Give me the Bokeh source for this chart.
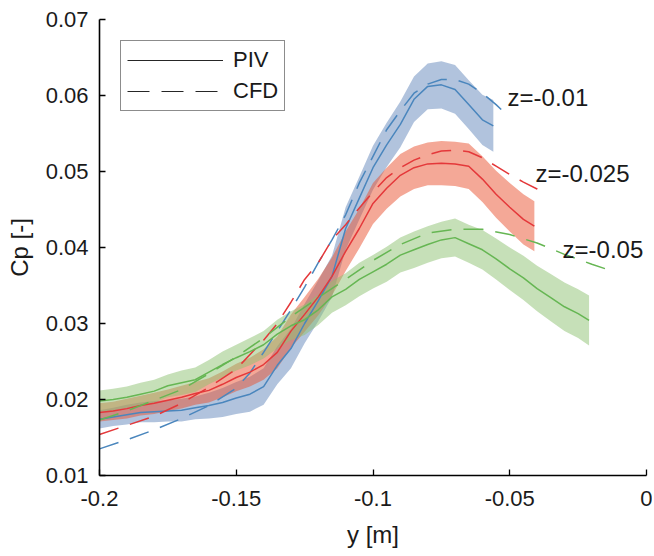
from bokeh.plotting import figure
from bokeh.models import Range1d, FixedTicker, Legend, LegendItem, ColumnDataSource
from bokeh.core.properties import value
from bokeh.embed import file_html
from bokeh.resources import INLINE

# ---------------- data ----------------
x_ticks = [-0.2, -0.15, -0.1, -0.05, 0.0]
x_tick_labels = ["-0.2", "-0.15", "-0.1", "-0.05", "0"]
y_ticks = [0.01, 0.02, 0.03, 0.04, 0.05, 0.06, 0.07]
y_tick_labels = ["0.01", "0.02", "0.03", "0.04", "0.05", "0.06", "0.07"]

# PIV z=-0.01
piv1_x = [-0.200, -0.195, -0.190, -0.185, -0.180, -0.175, -0.170, -0.165, -0.160, -0.155,
          -0.150, -0.145, -0.140, -0.135, -0.130, -0.125, -0.120, -0.115, -0.110, -0.105,
          -0.100, -0.095, -0.090, -0.085, -0.080, -0.075, -0.070, -0.065, -0.060, -0.056]
piv1_y = [0.0174, 0.0177, 0.0180, 0.0183, 0.0184, 0.0185, 0.0186, 0.0189, 0.0192, 0.0196,
          0.0202, 0.0207, 0.0217, 0.0245, 0.0267, 0.0300, 0.0330, 0.0362, 0.0425, 0.0465,
          0.0505, 0.0535, 0.0562, 0.0595, 0.0612, 0.0614, 0.0608, 0.0588, 0.0568, 0.0560]
piv1_err = [0.0012, 0.0012, 0.0013, 0.0013, 0.0014, 0.0014, 0.0015, 0.0015, 0.0017, 0.0019,
            0.0021, 0.0023, 0.0024, 0.0025, 0.0026, 0.0026, 0.0027, 0.0027, 0.0028, 0.0028,
            0.0029, 0.0029, 0.0030, 0.0030, 0.0030, 0.0031, 0.0032, 0.0032, 0.0033, 0.0034]

# PIV z=-0.025
piv2_x = [-0.200, -0.195, -0.190, -0.185, -0.180, -0.175, -0.170, -0.165, -0.160, -0.155,
          -0.150, -0.145, -0.140, -0.135, -0.130, -0.125, -0.120, -0.115, -0.110, -0.105,
          -0.100, -0.095, -0.090, -0.085, -0.080, -0.075, -0.070, -0.065, -0.060, -0.055,
          -0.050, -0.045, -0.041]
piv2_y = [0.0183, 0.0185, 0.0188, 0.0192, 0.0195, 0.0199, 0.0203, 0.0208, 0.0212, 0.0220,
          0.0229, 0.0236, 0.0246, 0.0262, 0.0290, 0.0312, 0.0335, 0.0362, 0.0395, 0.0425,
          0.0458, 0.0478, 0.0495, 0.0505, 0.0510, 0.0511, 0.0510, 0.0507, 0.0490, 0.0470,
          0.0453, 0.0437, 0.0428]
piv2_err = [0.0012, 0.0012, 0.0013, 0.0013, 0.0014, 0.0014, 0.0015, 0.0015, 0.0016, 0.0017,
            0.0018, 0.0019, 0.0020, 0.0021, 0.0022, 0.0023, 0.0024, 0.0025, 0.0026, 0.0026,
            0.0027, 0.0027, 0.0028, 0.0028, 0.0028, 0.0029, 0.0029, 0.0030, 0.0030, 0.0031,
            0.0032, 0.0033, 0.0033]

# PIV z=-0.05
piv3_x = [-0.200, -0.195, -0.190, -0.185, -0.180, -0.175, -0.170, -0.165, -0.160, -0.155,
          -0.150, -0.145, -0.140, -0.135, -0.130, -0.125, -0.120, -0.115, -0.110, -0.105,
          -0.100, -0.095, -0.090, -0.085, -0.080, -0.075, -0.070, -0.065, -0.060, -0.055,
          -0.050, -0.045, -0.040, -0.035, -0.030, -0.025, -0.021]
piv3_y = [0.0198, 0.0200, 0.0203, 0.0207, 0.0211, 0.0218, 0.0222, 0.0226, 0.0236, 0.0246,
          0.0255, 0.0263, 0.0272, 0.0286, 0.0297, 0.0305, 0.0318, 0.0335, 0.0345, 0.0358,
          0.0368, 0.0378, 0.0390, 0.0397, 0.0404, 0.0410, 0.0413, 0.0405, 0.0397, 0.0385,
          0.0372, 0.0360, 0.0346, 0.0334, 0.0322, 0.0313, 0.0304]
piv3_err = [0.0014, 0.0014, 0.0014, 0.0015, 0.0015, 0.0015, 0.0016, 0.0016, 0.0016, 0.0017,
            0.0017, 0.0018, 0.0018, 0.0019, 0.0019, 0.0020, 0.0020, 0.0021, 0.0021, 0.0022,
            0.0022, 0.0023, 0.0023, 0.0024, 0.0024, 0.0024, 0.0025, 0.0025, 0.0026, 0.0027,
            0.0028, 0.0029, 0.0030, 0.0031, 0.0032, 0.0032, 0.0033]

# CFD z=-0.01
cfd1_x = [-0.200, -0.190, -0.180, -0.170, -0.160, -0.150, -0.145, -0.140, -0.135, -0.130,
          -0.125, -0.120, -0.115, -0.110, -0.105, -0.100, -0.095, -0.090, -0.085, -0.080,
          -0.075, -0.070, -0.065, -0.060, -0.055, -0.050]
cfd1_y = [0.0135, 0.0147, 0.0160, 0.0175, 0.0192, 0.0215, 0.0235, 0.0262, 0.0290, 0.0318,
          0.0348, 0.0380, 0.0410, 0.0443, 0.0485, 0.0520, 0.0555, 0.0580, 0.0603, 0.0615,
          0.0621, 0.0621, 0.0615, 0.0603, 0.0588, 0.0571]

# CFD z=-0.025
cfd2_x = [-0.200, -0.190, -0.180, -0.170, -0.160, -0.150, -0.140, -0.135, -0.130, -0.125,
          -0.120, -0.115, -0.110, -0.105, -0.100, -0.095, -0.090, -0.085, -0.080, -0.075,
          -0.070, -0.065, -0.060, -0.055, -0.050, -0.045, -0.040, -0.0375]
cfd2_y = [0.0154, 0.0166, 0.0178, 0.0195, 0.0216, 0.0240, 0.0278, 0.0300, 0.0328, 0.0358,
          0.0380, 0.0410, 0.0430, 0.0452, 0.0473, 0.0492, 0.0505, 0.0515, 0.0522, 0.0527,
          0.0528, 0.0526, 0.0518, 0.0507, 0.0496, 0.0486, 0.0477, 0.0470]

# CFD z=-0.05
cfd3_x = [-0.200, -0.190, -0.180, -0.170, -0.160, -0.150, -0.140, -0.130, -0.120, -0.110,
          -0.100, -0.090, -0.080, -0.070, -0.060, -0.050, -0.040, -0.030, -0.020, -0.0125]
cfd3_y = [0.0173, 0.0185, 0.0199, 0.0213, 0.0234, 0.0256, 0.0281, 0.0309, 0.0334, 0.0358,
          0.0383, 0.0404, 0.0419, 0.0424, 0.0424, 0.0417, 0.0406, 0.0391, 0.0378, 0.0369]

labels = ["z=-0.01", "z=-0.025", "z=-0.05"]
label_x = [-0.0508, -0.0406, -0.0307]
label_y = [0.0598, 0.0498, 0.0398]

# ---------------- styles ----------------
FONT = "Liberation Sans"
band_colors = ["#6387bb", "#e9512f", "#8dc171"]
line_colors = ["#4a86bd", "#e4383a", "#66b653"]
NAN = float("nan")

p = figure(width=652, height=550, output_backend="svg", toolbar_location=None,
           x_range=Range1d(-0.2, 0.0), y_range=Range1d(0.01, 0.07),
           min_border_left=99, min_border_right=6, min_border_top=19, min_border_bottom=72)
p.outline_line_color = None
p.grid.visible = False
p.background_fill_color = "white"

series = [
    (piv1_x, piv1_y, piv1_err, cfd1_x, cfd1_y),
    (piv2_x, piv2_y, piv2_err, cfd2_x, cfd2_y),
    (piv3_x, piv3_y, piv3_err, cfd3_x, cfd3_y),
]

for i, (px, py, pe, cx, cy) in enumerate(series):
    lo = [a - b for a, b in zip(py, pe)]
    hi = [a + b for a, b in zip(py, pe)]
    src = ColumnDataSource(dict(x=px, lo=lo, hi=hi))
    p.varea(x="x", y1="lo", y2="hi", source=src, fill_color=band_colors[i], fill_alpha=0.5)

for i, (px, py, pe, cx, cy) in enumerate(series):
    p.line(px, py, line_color=line_colors[i], line_width=1.5)
    p.line(cx, cy, line_color=line_colors[i], line_width=1.5, line_dash="20 12")

p.text(x=label_x, y=label_y, text=labels, text_font=value(FONT), text_font_size="24px",
       text_color="#1a1a1a", text_baseline="alphabetic", text_align="left")

r_piv = p.line(x=[NAN], y=[NAN], line_color="#262626", line_width=1)
r_cfd = p.line(x=[NAN], y=[NAN], line_color="#262626", line_width=1, line_dash="22 12")
legend = Legend(items=[LegendItem(label="PIV", renderers=[r_piv]),
                       LegendItem(label="CFD", renderers=[r_cfd])],
                location="top_left", margin=21, padding=6, spacing=5,
                glyph_width=96, glyph_height=20, label_height=20, label_standoff=10,
                label_text_font=FONT, label_text_font_size="22px", label_text_color="#1a1a1a",
                border_line_color="#1a1a1a", border_line_width=1, background_fill_alpha=1.0)
p.add_layout(legend)

for ax in (p.xaxis[0], p.yaxis[0]):
    ax.axis_line_color = "black"
    ax.axis_line_width = 1.6
    ax.major_tick_line_color = "black"
    ax.major_tick_line_width = 1.3
    ax.major_tick_in = 6
    ax.major_tick_out = 0
    ax.minor_tick_line_color = None
    ax.major_label_text_font = FONT
    ax.major_label_text_font_size = "22px"
    ax.major_label_text_color = "#1a1a1a"
    ax.axis_label_text_font = FONT
    ax.axis_label_text_font_size = "24px"
    ax.axis_label_text_font_style = "normal"
    ax.axis_label_text_color = "#1a1a1a"

p.xaxis.ticker = FixedTicker(ticks=x_ticks)
p.xaxis.major_label_overrides = dict(zip(x_ticks, x_tick_labels))
p.yaxis.ticker = FixedTicker(ticks=y_ticks)
p.yaxis.major_label_overrides = dict(zip(y_ticks, y_tick_labels))
p.xaxis.axis_label = "y [m]"
p.yaxis.axis_label = "Cp [-]"
p.xaxis.major_label_standoff = 15
p.yaxis.major_label_standoff = 11
p.xaxis.axis_label_standoff = 12
p.yaxis.axis_label_standoff = 10

open("out.html", "w").write(file_html(p, INLINE))
